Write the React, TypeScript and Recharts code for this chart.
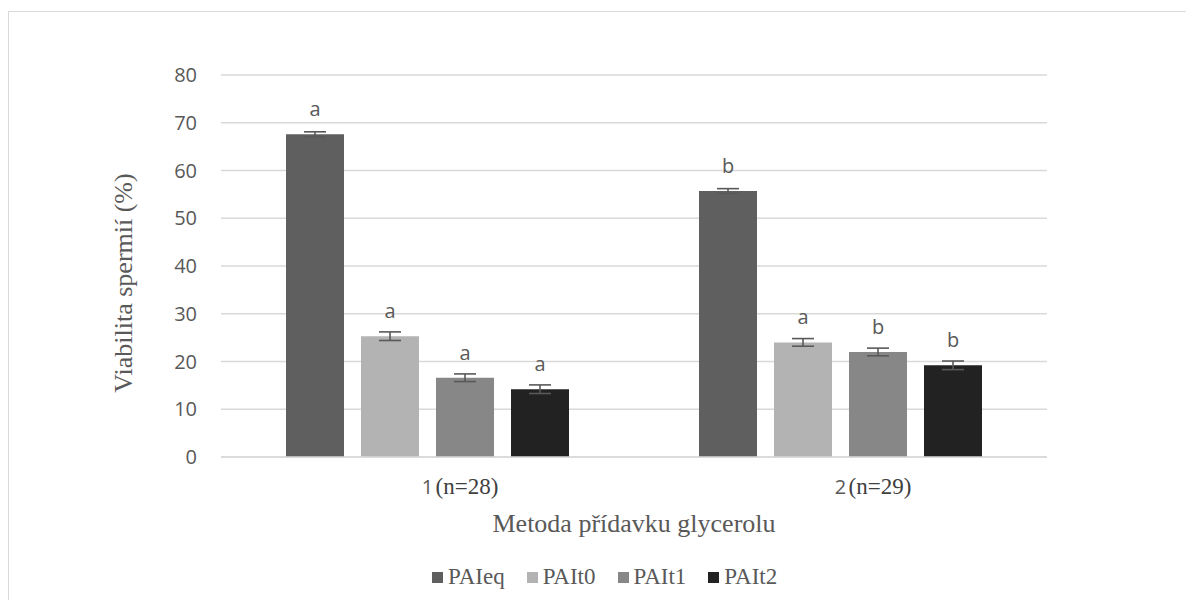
import { BarChart, Bar, XAxis, YAxis, CartesianGrid, ErrorBar, LabelList, Legend } from 'recharts';

// Skupiny (metoda přídavku glycerolu)
const categories = ['1', '2'];
const sampleSizes = ['(n=28)', '(n=29)'];

// Průměrná viabilita (%) a chyby
const paieq = [67.6, 55.7];
const paieqErr = [0.5, 0.5];
const pait0 = [25.3, 24.0];
const pait0Err = [0.9, 0.8];
const pait1 = [16.6, 22.0];
const pait1Err = [0.8, 0.8];
const pait2 = [14.2, 19.2];
const pait2Err = [0.9, 0.9];

// Písmena statistické významnosti
const paieqSig = ['a', 'b'];
const pait0Sig = ['a', 'a'];
const pait1Sig = ['a', 'b'];
const pait2Sig = ['a', 'b'];

const yTicks = [0, 10, 20, 30, 40, 50, 60, 70, 80];

const series = [
  { key: 'PAIeq', color: '#5f5f5f' },
  { key: 'PAIt0', color: '#b3b3b3' },
  { key: 'PAIt1', color: '#878787' },
  { key: 'PAIt2', color: '#222222' },
];

const data = categories.map((c, i) => ({
  name: c,
  n: sampleSizes[i],
  PAIeq: paieq[i],
  PAIeqErr: paieqErr[i],
  PAIeqSig: paieqSig[i],
  PAIt0: pait0[i],
  PAIt0Err: pait0Err[i],
  PAIt0Sig: pait0Sig[i],
  PAIt1: pait1[i],
  PAIt1Err: pait1Err[i],
  PAIt1Sig: pait1Sig[i],
  PAIt2: pait2[i],
  PAIt2Err: pait2Err[i],
  PAIt2Sig: pait2Sig[i],
}));

const SANS = '"Open Sans", "Liberation Sans", sans-serif';
const SERIF = '"Liberation Serif", "DejaVu Serif", serif';
const TEXT = '#595959';

const SigLabel = (props: any) => {
  const { x, y, width, value } = props;
  return (
    <text x={x + width / 2} y={y - 18} textAnchor="middle" fill={TEXT} fontFamily={SANS} fontSize={20}>
      {value}
    </text>
  );
};

const XTick = (props: any) => {
  const { x, y, payload, index } = props;
  return (
    <g>
      <text x={x} y={y + 37} textAnchor="middle" fill={TEXT} fontFamily={SANS} fontSize={20}>
        {payload.value}
      </text>
      <text x={x + 8} y={y + 37} textAnchor="start" fill="#404040" fontFamily={SERIF} fontSize={23}>
        {sampleSizes[index]}
      </text>
    </g>
  );
};

const YTitle = (props: any) => {
  const { viewBox } = props;
  const cx = 114;
  const cy = viewBox.y + viewBox.height / 2 + 17;
  return (
    <text
      x={cx}
      y={cy}
      transform={`rotate(-90, ${cx}, ${cy})`}
      textAnchor="middle"
      dominantBaseline="central"
      fill={TEXT}
      fontFamily={SERIF}
      fontSize={26}
    >
      Viabilita spermií (%)
    </text>
  );
};

const LegendContent = () => (
  <div style={{ display: 'flex', alignItems: 'center', fontFamily: SERIF, fontSize: 23, color: TEXT }}>
    {series.map((s) => (
      <div key={s.key} style={{ display: 'flex', alignItems: 'center', marginRight: 22 }}>
        <span style={{ display: 'inline-block', width: 11, height: 11, background: s.color, marginRight: 5 }} />
        <span>{s.key}</span>
      </div>
    ))}
  </div>
);

export default function App() {
  return (
    <div
      style={{
        marginTop: 3,
        width: 1177,
        height: 588,
        overflow: 'hidden',
        borderTop: '1px solid #d9d9d9',
        borderLeft: '1px solid #d9d9d9',
        background: '#fff',
      }}
    >
      <BarChart
        width={1185}
        height={597}
        data={data}
        margin={{ top: 63, right: 147, left: 0, bottom: 15 }}
        barCategoryGap={65}
        barGap={17}
      >
        <CartesianGrid vertical={false} stroke="#d9d9d9" strokeWidth={1.3} />
        <XAxis
          dataKey="name"
          height={107}
          axisLine={{ stroke: '#d9d9d9', strokeWidth: 1.3 }}
          tickLine={false}
          tickSize={0}
          tickMargin={0}
          tick={<XTick />}
          label={{
            value: 'Metoda přídavku glycerolu',
            position: 'insideTop',
            offset: 57,
            fill: TEXT,
            fontFamily: SERIF,
            fontSize: 26,
          }}
        />
        <YAxis
          width={212}
          domain={[0, 80]}
          ticks={yTicks}
          axisLine={false}
          tickLine={false}
          tickMargin={18}
          tick={{ fill: TEXT, fontFamily: SANS, fontSize: 20 }}
          label={<YTitle />}
        />
        <Legend
          verticalAlign="bottom"
          height={30}
          content={<LegendContent />}
          wrapperStyle={{ left: 423, width: 440 }}
        />
        {series.map((s) => (
          <Bar key={s.key} dataKey={s.key} fill={s.color} isAnimationActive={false}>
            <ErrorBar dataKey={`${s.key}Err`} width={11} stroke="#595959" strokeWidth={1.6} direction="y" />
            <LabelList dataKey={`${s.key}Sig`} content={<SigLabel />} />
          </Bar>
        ))}
      </BarChart>
    </div>
  );
}
